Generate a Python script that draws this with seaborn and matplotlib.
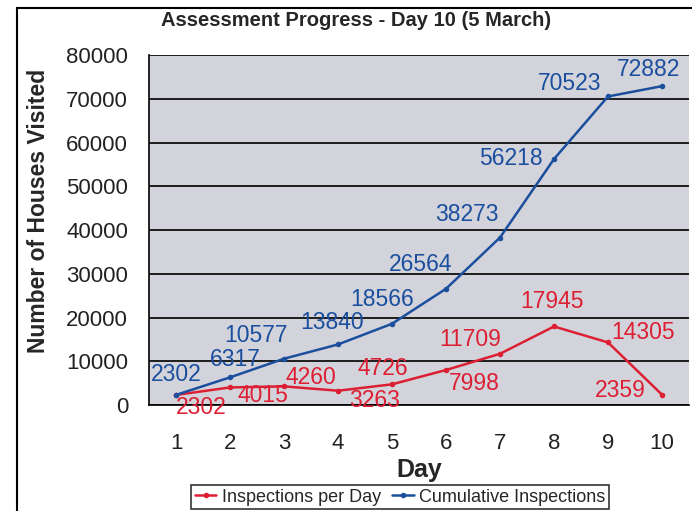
import pandas as pd
import seaborn as sns
import matplotlib.pyplot as plt
from matplotlib.patches import Rectangle

# data
days = [1, 2, 3, 4, 5, 6, 7, 8, 9, 10]
per_day = [2302, 4015, 4260, 3263, 4726, 7998, 11709, 17945, 14305, 2359]
cumulative = [2302, 6317, 10577, 13840, 18566, 26564, 38273, 56218, 70523, 72882]
series_names = ['Inspections per Day', 'Cumulative Inspections']

# label offsets in pixels (style only), (dx, dy up)
off_red = [(25, -13), (33, -8), (27, 9), (37, -10), (-9, 16),
           (28, -13), (-30, 14), (-2, 25), (35, 10), (-42, 4)]
off_blue = [(0, 20), (5, 18), (-28, 23), (-6, 22), (-10, 24),
            (-25, 24), (-33, 23), (-43, 1), (-38, 13), (-13, 17)]

red = '#dc1f33'
blue = '#1b4f9e'

df = pd.DataFrame({
    'Day': days * 2,
    'Houses': per_day + cumulative,
    'Series': [series_names[0]] * len(days) + [series_names[1]] * len(days),
})

sns.set_style('white')
plt.rcParams['font.family'] = ['Liberation Sans', 'DejaVu Sans']

fig = plt.figure(figsize=(6.92, 5.11), dpi=100)
ax = fig.add_axes([149 / 692, 1 - 405 / 511, 540 / 692, 350 / 511])
ax.set_facecolor('#d3d4db')

sns.lineplot(data=df, x='Day', y='Houses', hue='Series', hue_order=series_names,
             palette=[red, blue], marker='o', markersize=4, markeredgewidth=0,
             linewidth=1.8, ax=ax, legend=True)

for x, y, o in zip(days, per_day, off_red):
    ax.annotate(str(y), (x, y), xytext=o, textcoords='offset pixels',
                ha='center', va='center', color=red, fontsize=16.5)
for x, y, o in zip(days, cumulative, off_blue):
    ax.annotate(str(y), (x, y), xytext=o, textcoords='offset pixels',
                ha='center', va='center', color=blue, fontsize=16.5)

ax.set_xlim(0.5, 10.5)
ax.set_ylim(0, 80000)
ax.set_yticks(range(0, 80001, 10000))
ax.set_xticks(days)
ax.set_xticks([d + 0.5 for d in range(0, 11)], minor=True)
ax.tick_params(axis='x', which='major', length=0, labelsize=16, pad=20,
               colors='#222222')
ax.tick_params(axis='x', which='minor', length=5, direction='out', width=1)
ax.tick_params(axis='y', length=6, direction='out', width=1, labelsize=16, pad=9,
               colors='#222222')
ax.grid(axis='y', color='#1e1e1e', linewidth=1.4)
ax.set_axisbelow(True)
for s in ['top', 'right']:
    ax.spines[s].set_visible(False)
for s in ['left', 'bottom']:
    ax.spines[s].set_color('black')
    ax.spines[s].set_linewidth(1.2)

ax.set_xlabel('Day', fontsize=18, fontweight='bold', labelpad=3)
ax.set_ylabel('Number of Houses Visited', fontsize=16.5, fontweight='bold')
ax.yaxis.set_label_coords(-0.184, 0.554)
fig.text(356 / 692, 1 - 20 / 511, 'Assessment Progress - Day 10 (5 March)',
         ha='center', va='center', fontsize=14.5, fontweight='bold')

leg = ax.legend(loc='center', bbox_to_anchor=(400 / 692, 1 - 497 / 511),
                bbox_transform=fig.transFigure, ncol=2, frameon=True,
                fancybox=False, edgecolor='black', fontsize=13,
                handlelength=1.2, handletextpad=0.3, columnspacing=0.6,
                borderpad=0.2)
leg.get_frame().set_linewidth(1.2)

fig.patches.append(Rectangle((17 / 692, -0.1), 1.2, 1.1 - 8 / 511,
                             transform=fig.transFigure, fill=False,
                             edgecolor='black', linewidth=1.5))

fig.savefig('out.png', dpi=100, facecolor='white')
